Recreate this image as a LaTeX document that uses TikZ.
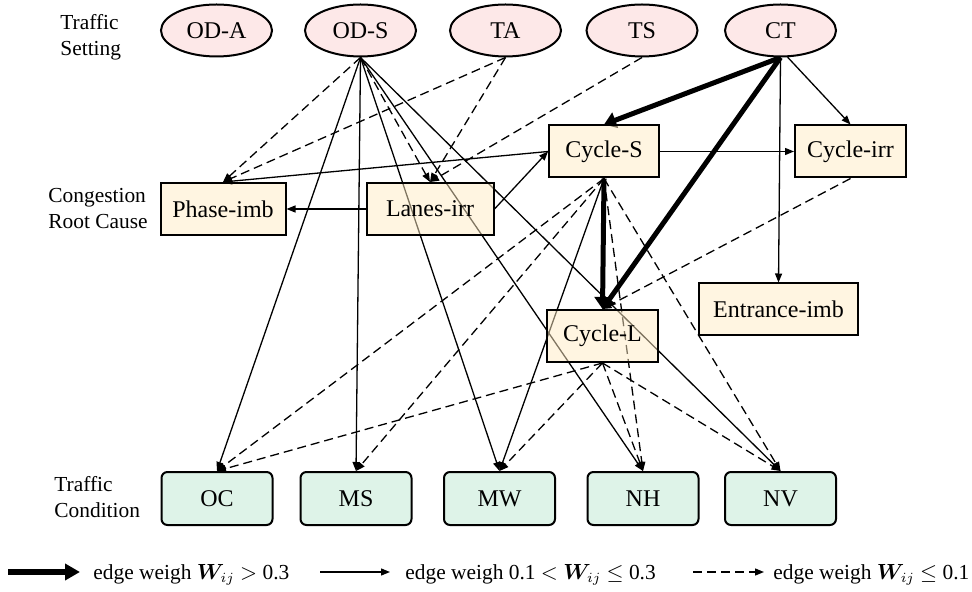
\documentclass[tikz,border=0pt]{standalone}
\usepackage{fontspec}
\setmainfont{Liberation Serif}
\usepackage{amsmath,bm}
\usetikzlibrary{arrows.meta,shapes.geometric,backgrounds}
\definecolor{settingpink}{RGB}{253,232,232}
\definecolor{causecream}{RGB}{255,235,195}
\definecolor{condgreen}{RGB}{222,243,232}
\begin{document}
\begin{tikzpicture}[x=0.5pt,y=-0.5pt,setting/.style={ellipse,draw=black,line width=1pt,fill=settingpink,minimum width=55.5pt,minimum height=26pt,inner sep=1pt,font=\fontsize{12}{14}\selectfont},rootcause/.style={rectangle,draw=black,line width=1pt,fill=causecream,fill opacity=0.5,draw opacity=1,text opacity=1,minimum height=26pt,font=\fontsize{12}{14}\selectfont},condition/.style={rectangle,rounded corners=3pt,draw=black,line width=1pt,fill=condgreen,minimum width=55.5pt,minimum height=26.5pt,font=\fontsize{12}{14}\selectfont},levellabel/.style={anchor=west,align=left,inner sep=0pt,font=\fontsize{10.7}{13}\selectfont},legendtext/.style={anchor=base west,inner sep=0pt,font=\fontsize{10.7}{13}\selectfont},stronginfluence/.style={line width=2.5pt,-{Triangle[length=6pt,width=8pt]}},hasinfluence/.style={line width=0.65pt,-{Triangle[length=4.5pt,width=3.5pt]}},weakinfluence/.style={hasinfluence,dash pattern=on 4.5pt off 2.5pt}]
\def\settingY{30.5};
\def\causeY{209};
\def\condY{498.5};
\def\legendY{572};
\useasboundingbox (0,0) rectangle (972,592);

\node[levellabel] (lblSetting) at (60,37) {Traffic\\Setting};
\node[levellabel] (lblCause) at (48,209) {Congestion\\Root Cause};
\node[levellabel] (lblCond) at (54,497) {Traffic\\Condition};

\node[setting] (oda) at (216.5,\settingY) {OD-A};
\node[setting] (ods) at (360.5,\settingY) {OD-S};
\node[setting] (ta) at (505.5,\settingY) {TA};
\node[setting] (ts) at (642,\settingY) {TS};
\node[setting] (ct) at (780.5,\settingY) {CT};

\node[rootcause,minimum width=62.5pt] (phase) at (223,\causeY) {Phase-imb};
\node[rootcause,minimum width=63.5pt] (lanes) at (430,\causeY) {Lanes-irr};
\node[rootcause,minimum width=55pt] (cycS) at (604,151.5) {Cycle-S};
\node[rootcause,minimum width=55.5pt] (cycI) at (850.5,151.5) {Cycle-irr};
\node[rootcause,minimum width=79.5pt] (ent) at (778.5,309.5) {Entrance-imb};
\node[rootcause,minimum width=55.5pt] (cycL) at (602.5,336) {Cycle-L};

\node[condition] (oc) at (217,\condY) {OC};
\node[condition] (ms) at (356,\condY) {MS};
\node[condition] (mw) at (499.5,\condY) {MW};
\node[condition] (nh) at (643,\condY) {NH};
\node[condition] (nv) at (780.5,\condY) {NV};

\begin{pgfonlayer}{background}
% traffic setting
\draw[weakinfluence] (ods.south) -- (phase.north);
\draw[hasinfluence] (ods.south) -- (oc.north);
\draw[hasinfluence] (ods.south) -- (ms.north);
\draw[hasinfluence] (ods.south) -- (mw.north);
\draw[weakinfluence] (ods.south) -- (lanes.north);
\draw[hasinfluence] (ods.south) -- (nh.north);
\draw[hasinfluence] (ods.south) -- (nv.north);
\draw[weakinfluence] (ta.south) -- (phase.north);
\draw[weakinfluence] (ta.south) -- (lanes.north);
\draw[weakinfluence] (ts.south) -- (lanes.north);
\draw[stronginfluence] (ct.south) -- (cycS.north);
\draw[stronginfluence] (ct.south) -- (cycL.north);
\draw[hasinfluence] (ct.south) -- (ent.north);
\draw[hasinfluence] (ct.-75) -- (cycI.north);
% root causes
\draw[hasinfluence] (lanes.west) -- (phase.east);
\draw[hasinfluence] (lanes.east) -- (cycS.west);
\draw[hasinfluence] (cycS.west) -- (phase.north);
\draw[hasinfluence] (cycS.east) -- (cycI.west);
\draw[stronginfluence] (cycS.south) -- (cycL.north);
\draw[weakinfluence] (cycI.south) -- (cycL.north);
% traffic condition
\draw[weakinfluence] (cycS.south) -- (oc.north);
\draw[weakinfluence] (cycS.south) -- (ms.north);
\draw[hasinfluence] (cycS.south) -- (mw.north);
\draw[weakinfluence] (cycS.south) -- (nh.north);
\draw[weakinfluence] (cycS.south) -- (nv.north);
\draw[weakinfluence] (cycL.south) -- (oc.north);
\draw[weakinfluence] (cycL.south) -- (mw.north);
\draw[weakinfluence] (cycL.south) -- (nh.north);
\draw[weakinfluence] (cycL.south) -- (nv.north);
\end{pgfonlayer}

% legend
\coordinate (lgStrongA) at (8,\legendY);
\coordinate (lgStrongB) at (80,\legendY);
\coordinate (lgMidA) at (320,\legendY);
\coordinate (lgMidB) at (390,\legendY);
\coordinate (lgWeakA) at (693,\legendY);
\coordinate (lgWeakB) at (764,\legendY);
\draw[line width=3.3pt,-{Triangle[length=7.5pt,width=8pt]}] (lgStrongA) -- (lgStrongB);
\draw[hasinfluence] (lgMidA) -- (lgMidB);
\draw[weakinfluence] (lgWeakA) -- (lgWeakB);
\node[legendtext] (lgStrong) at (93,579) {edge weigh $\bm{W}_{ij}$ $>$ 0.3};
\node[legendtext] (lgMid) at (405,579) {edge weigh 0.1 $<$ $\bm{W}_{ij}$ $\leq$ 0.3};
\node[legendtext] (lgWeak) at (773,579) {edge weigh $\bm{W}_{ij}$ $\leq$ 0.1};
\end{tikzpicture}
\end{document}
